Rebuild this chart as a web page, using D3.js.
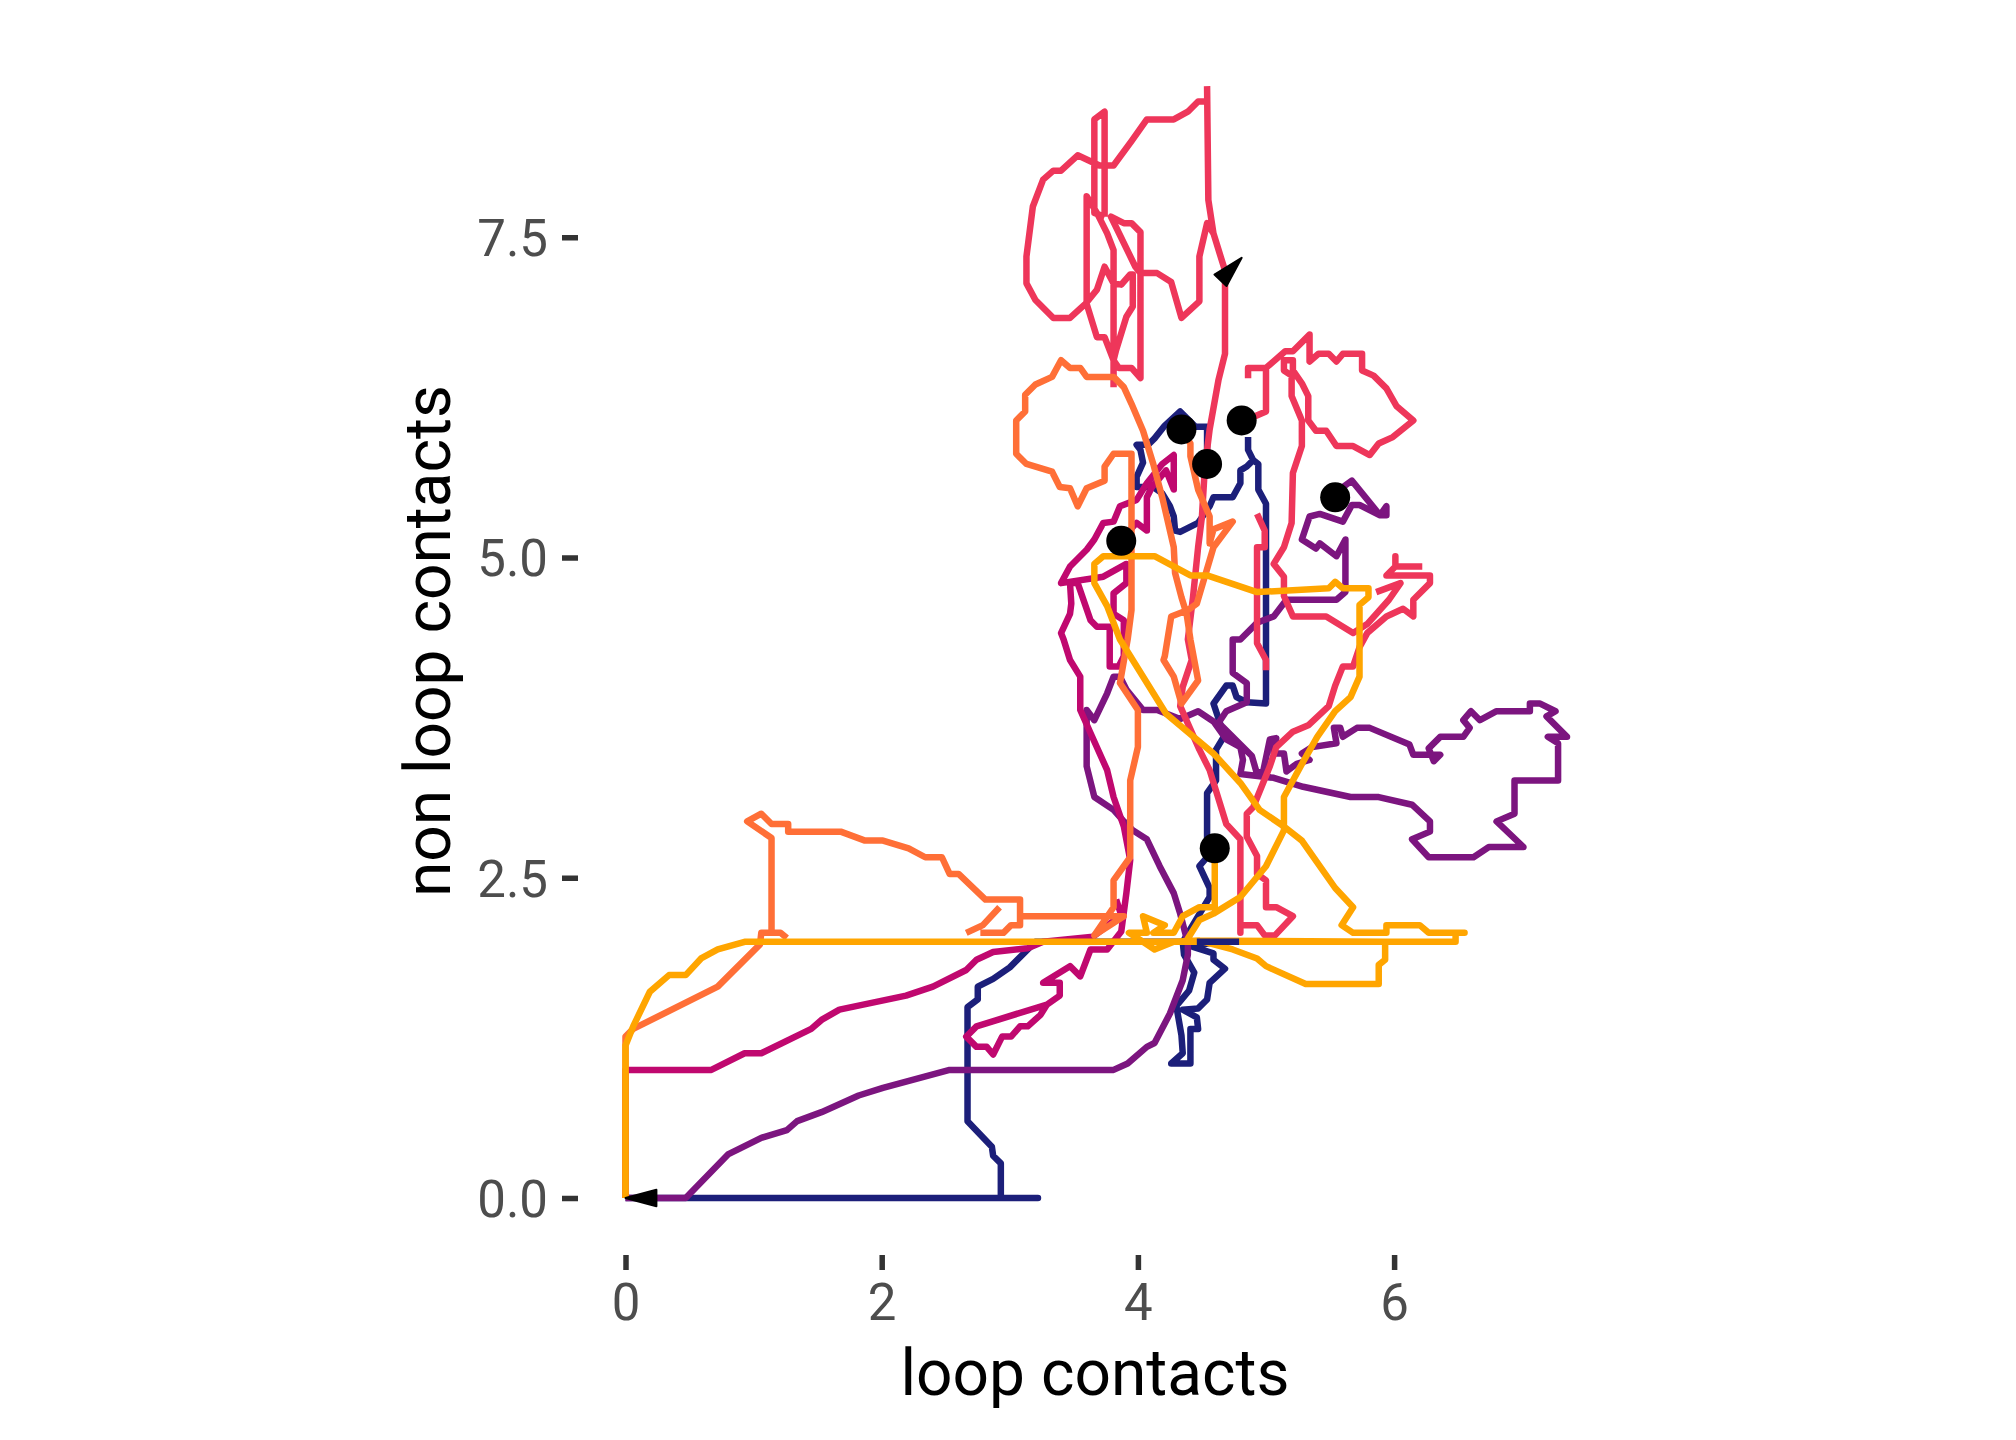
<!DOCTYPE html>
<html>
<head>
<meta charset="utf-8">
<script src="https://cdn.jsdelivr.net/npm/d3@7"></script>
<style>
  html, body { margin: 0; padding: 0; background: #ffffff; }
  svg { display: block; }
</style>
</head>
<body>
<svg id="chart" width="2016" height="1440"></svg>
<script>
// ---- data (loop contacts, non loop contacts); null = gap between pieces ----
const xTicks = [0, 2, 4, 6];
const yTicks = [0, 2.5, 5, 7.5];

const navyPath = [
  [0,0],[3.22,0],[2.93,0],[2.93,0.27],[2.87,0.33],[2.86,0.40],[2.67,0.60],[2.67,1.49],[2.75,1.55],[2.75,1.65],
  [2.87,1.71],[3.00,1.80],[3.13,1.93],[3.20,2.00],[4.79,2.00],[4.60,2.00],[4.43,1.96],[4.59,1.91],[4.59,1.86],
  [4.68,1.79],[4.56,1.68],[4.54,1.55],[4.47,1.48],[4.35,1.47],[4.46,1.41],[4.47,1.32],[4.41,1.32],[4.41,1.05],
  [4.26,1.05],[4.35,1.13],[4.34,1.27],[4.30,1.50],[4.40,1.62],[4.44,1.76],[4.36,1.90],[4.35,2.00],[4.56,2.35],
  [4.56,2.42],[4.48,2.59],[4.54,2.66],[4.54,3.16],[4.61,3.26],[4.61,3.50],[4.67,3.60],[4.64,3.71],[4.59,3.86],
  [4.69,4.00],[4.74,4.00],[4.77,3.91],[4.85,3.87],[5.00,3.86],[5.00,5.42],[4.94,5.53],[4.94,5.73],[4.90,5.76],
  [4.86,5.84],[4.86,5.94], null,
  [4.90,5.76],[4.85,5.71],[4.80,5.68],[4.80,5.58],[4.74,5.47],[4.59,5.47],[4.56,5.40],[4.47,5.27],[4.33,5.20],
  [4.29,5.21],[4.28,5.32],[4.25,5.40],[4.19,5.50],[4.12,5.55],[3.99,5.55],[3.99,5.63],[4.04,5.74],[4.02,5.84],
  [3.99,5.88],[4.08,5.88],[4.13,5.93],[4.21,6.03],[4.33,6.14],[4.45,6.02],[4.54,6.02],[4.54,5.73]
];

const purplePath = [
  [0,0],[0.47,0],[0.80,0.34],[1.06,0.47],[1.26,0.53],[1.34,0.60],[1.53,0.67],[1.82,0.80],[2.01,0.86],[2.53,1.00],
  [3.81,1.00],[3.92,1.05],[4.07,1.18],[4.13,1.21],[4.25,1.44],[4.35,1.70],[4.39,1.90],[4.39,1.99],[4.33,2.22],
  [4.28,2.38],[4.17,2.59],[4.07,2.80],[3.96,2.87],[3.89,2.94],[3.81,3.03],[3.66,3.13],[3.60,3.37],[3.60,3.81],
  [3.66,3.73],[3.76,3.94],[3.81,4.07],[3.86,4.07],[3.91,3.97],[4.04,3.81],[4.15,3.81],[4.33,3.74],[4.47,3.80],
  [4.59,3.72],[4.69,3.58],[4.80,3.52],[4.82,3.42],[4.80,3.31],[5.06,3.28],[5.29,3.21],[5.66,3.13],[5.88,3.13],
  [6.14,3.07],[6.28,2.94],[6.28,2.86],[6.14,2.80],[6.27,2.66],[6.62,2.66],[6.74,2.74],[7.01,2.74],[6.80,2.94],
  [6.94,3.00],[6.94,3.26],[7.28,3.26],[7.28,3.55],[7.20,3.60],[7.35,3.60],[7.19,3.76],[7.26,3.80],[7.14,3.86],
  [7.06,3.86],[7.06,3.80],[6.80,3.80],[6.67,3.73],[6.60,3.80],[6.54,3.73],[6.59,3.67],[6.54,3.60],[6.36,3.60],
  [6.27,3.51],[6.31,3.41],[6.36,3.46],[6.15,3.46],[6.12,3.54],[5.81,3.67],[5.71,3.67],[5.60,3.60],[5.58,3.67],
  [5.53,3.67],[5.55,3.55],[5.36,3.52],[5.28,3.47],[5.34,3.42],[5.24,3.39],[5.16,3.33],[5.14,3.47],[5.06,3.47],
  [5.08,3.59],[5.03,3.58],[4.98,3.34],[4.93,3.31],[4.89,3.45],[4.82,3.52],[4.63,3.71],[4.69,3.80],[4.85,3.87],
  [4.85,4.02],[4.74,4.10],[4.74,4.36],[4.80,4.36],[4.93,4.49],[5.06,4.54],[5.16,4.67],[5.55,4.67],[5.62,4.73],
  [5.62,5.14],[5.55,5.01],[5.42,5.11],[5.39,5.07],[5.28,5.14],[5.34,5.32],[5.42,5.34],[5.60,5.28],[5.67,5.41],
  [5.73,5.41],[5.89,5.33],[5.94,5.40],[5.94,5.33],[5.89,5.33],[5.67,5.60],[5.60,5.55],[5.54,5.47]
];

const magentaPath = [
  [0,0],[0,1.00],[0.67,1.00],[0.93,1.13],[1.06,1.13],[1.45,1.32],[1.53,1.39],[1.67,1.47],[2.19,1.58],[2.40,1.65],
  [2.66,1.78],[2.74,1.86],[2.87,1.92],[3.14,1.95],[3.26,2.00],[3.65,2.04],[3.87,2.21],[3.83,2.33], null,
  [3.29,1.51],[2.74,1.34],[2.66,1.26],[2.74,1.18],[2.82,1.18],[2.87,1.12],[2.94,1.26],[3.01,1.26],[3.08,1.34],
  [3.14,1.34],[3.24,1.43],[3.29,1.51],[3.39,1.58],[3.39,1.68],[3.26,1.68],[3.47,1.81],[3.55,1.73],[3.63,1.94],
  [3.76,1.94],[3.87,2.08],[3.91,2.38],[3.94,2.64],[3.89,2.90],[3.81,3.13],[3.76,3.34],[3.63,3.63],[3.55,3.81],
  [3.55,4.07],[3.47,4.20],[3.42,4.36],[3.40,4.41],[3.47,4.56],[3.48,4.64],[3.47,4.80],[3.53,4.80],[3.63,4.51],
  [3.68,4.46],[3.78,4.46],[3.78,4.15],[3.85,4.15],[3.89,4.23],[3.89,4.51],[3.81,4.56],[3.81,4.72],[3.91,4.80],
  [3.91,4.95],[3.73,4.85],[3.40,4.80],[3.47,4.93],[3.60,5.06],[3.66,5.14],[3.73,5.27],[3.81,5.28],[3.86,5.40],
  [3.99,5.45],[4.07,5.58],[4.19,5.73],[4.28,5.80],[4.28,5.53],[4.22,5.68],[4.11,5.55],[4.07,5.47],[4.07,5.21],
  [3.99,5.27],[3.87,5.14]
];

const crimsonPath = [
  [4.54,8.68],[4.55,7.79],[4.59,7.53],[4.63,7.40],[4.68,7.24],[4.68,6.59],[4.63,6.39],[4.56,6.00],[4.54,5.84],
  [4.52,5.66],[4.50,5.32],[4.47,5.08],[4.43,4.69],[4.39,4.36],[4.42,4.20],[4.35,3.99],[4.33,3.84],[4.48,3.50],
  [4.56,3.34],[4.69,2.92],[4.80,2.80],[4.80,2.07],[4.80,2.13],[4.93,2.13],[4.99,2.05],[5.07,2.05],[5.21,2.20],
  [5.08,2.27],[5.00,2.27],[5.00,2.48],[4.93,2.53],[4.93,2.67],[4.85,2.82],[4.85,3.00],[4.90,3.05],[5.03,3.37],
  [5.08,3.52],[5.21,3.64],[5.33,3.69],[5.49,3.84],[5.54,4.00],[5.60,4.15],[5.68,4.15],[5.73,4.30],[5.79,4.41],
  [5.94,4.54],[6.07,4.60],[6.15,4.54],[6.15,4.67],[6.28,4.80],[6.28,4.86],[5.94,4.86],[6.01,4.93],[6.01,5.01],
  [6.01,4.93],[6.22,4.93], null,
  [5.86,4.73],[6.05,4.80],[5.96,4.67],[5.79,4.48],[5.68,4.41],[5.47,4.54],[5.21,4.54],[5.14,4.70],[5.14,4.85],
  [5.06,4.95],[5.14,5.08],[5.20,5.27],[5.21,5.66],[5.28,5.87],[5.28,6.07],[5.20,6.26],[5.20,6.42],[5.14,6.46],
  [5.14,6.54],[5.21,6.54],[5.21,6.46],[5.28,6.36],[5.33,6.26],[5.33,6.07],[5.39,5.99],[5.47,5.99],[5.55,5.87],
  [5.68,5.87],[5.81,5.80],[5.88,5.89],[5.99,5.94],[6.15,6.07],[6.02,6.18],[5.94,6.32],[5.84,6.42],[5.75,6.46],
  [5.75,6.59],[5.60,6.59],[5.55,6.53],[5.49,6.59],[5.41,6.59],[5.34,6.53],[5.34,6.74],[5.21,6.61],[5.15,6.61],
  [5.00,6.48],[4.86,6.48],[4.86,6.40], null,
  [5.00,6.48],[5.00,6.14],[4.91,6.10],[4.81,6.07], null,
  [4.93,5.34],[4.99,5.21],[4.99,5.08],[4.93,5.08],[4.93,4.33],[5.00,4.20],[5.00,4.12], null,
  [4.54,8.56],[4.47,8.56],[4.39,8.48],[4.28,8.42],[4.07,8.42],[3.95,8.25],[3.81,8.06],[3.70,8.06],[3.53,8.14],
  [3.40,8.02],[3.34,8.02],[3.26,7.95],[3.18,7.74],[3.13,7.35],[3.13,7.14],[3.20,7.01],[3.34,6.87],[3.47,6.87],
  [3.59,6.98],[3.68,7.09],[3.74,7.27],[3.81,7.14],[3.87,7.13],[3.94,7.21],[3.96,7.21],[3.96,6.96],[3.91,6.88],
  [3.83,6.62],[3.81,6.54],[3.85,6.48],[3.95,6.48],[4.02,6.40],[4.02,7.54],[3.95,7.61],[3.89,7.61],[3.79,7.66],
  [3.98,7.27],[4.02,7.22],[4.15,7.22],[4.26,7.15],[4.34,6.87],[4.48,7.00],[4.48,7.35],[4.54,7.61],[4.59,7.53], null,
  [3.81,6.33],[3.81,6.54],[3.74,6.72],[3.68,6.72],[3.60,6.98],[3.60,7.82],[3.68,7.69],[3.76,7.53],[3.81,7.40],
  [3.81,6.54], null,
  [3.74,7.66],[3.66,7.69],[3.66,8.42],[3.74,8.48],[3.74,7.66]
];

const orangePath = [
  [0,0],[0,1.26],[0.06,1.32],[0.72,1.65],[1.05,1.98],[1.06,2.07],[1.21,2.07],[1.26,2.03], null,
  [1.14,2.07],[1.14,2.81],[0.95,2.94],[1.06,3.00],[1.14,2.92],[1.27,2.92],[1.27,2.86],[1.68,2.86],[1.87,2.79],
  [2.01,2.79],[2.21,2.73],[2.34,2.66],[2.47,2.66],[2.53,2.53],[2.60,2.53],[2.81,2.33],[3.08,2.33],[3.08,2.20],
  [3.89,2.20],[3.66,2.05],[3.81,2.27],[3.81,2.48],[3.94,2.66],[3.94,3.26],[4.00,3.52],[4.00,3.81],[3.86,4.02],
  [3.92,4.36],[3.95,4.59],[3.95,5.81],[3.81,5.81],[3.74,5.71],[3.74,5.60],[3.60,5.54],[3.53,5.40],[3.47,5.54],
  [3.39,5.55],[3.33,5.67],[3.13,5.73],[3.05,5.81],[3.05,6.07],[3.12,6.14],[3.12,6.27],[3.20,6.35],[3.33,6.41],
  [3.40,6.54],[3.47,6.48],[3.55,6.48],[3.60,6.41],[3.81,6.41],[3.89,6.33],[3.95,6.20],[4.04,5.99],[4.12,5.73],
  [4.19,5.47],[4.28,5.08],[4.29,4.88],[4.34,4.69],[4.38,4.56],[4.41,4.36],[4.47,4.04],[4.34,3.86],[4.28,4.07],
  [4.20,4.20],[4.21,4.23],[4.26,4.54],[4.39,4.59],[4.46,4.64],[4.59,5.08],[4.74,5.28],[4.59,5.22],[4.56,5.11],
  [4.56,5.32],[4.47,5.53],[4.41,5.79],[4.41,5.89],[4.34,6.00], null,
  [2.66,2.07],[2.79,2.13],[2.92,2.27], null,
  [2.77,2.07],[2.95,2.07],[3.01,2.13],[3.08,2.13],[3.08,2.20]
];

const amberPath = [
  [0,0],[0,1.19],[0.06,1.34],[0.19,1.61],[0.34,1.74],[0.47,1.74],[0.59,1.87],[0.72,1.94],[0.93,2.00],[6.48,2.00],
  [6.48,2.07],[6.55,2.07],[6.27,2.07],[6.20,2.13],[5.94,2.13],[5.94,2.07],[5.68,2.07],[5.59,2.13],[5.68,2.27],
  [5.54,2.42],[5.28,2.79],[5.14,2.90],[4.95,3.03],[4.80,3.24],[4.59,3.47],[4.22,3.78],[3.86,4.36],[3.76,4.62],
  [3.66,4.80],[3.66,4.95],[3.73,5.01],[4.13,5.01],[4.41,4.86],[4.54,4.86],[4.93,4.73],[5.49,4.76],[5.54,4.81],
  [5.60,4.76],[5.80,4.76],[5.80,4.69],[5.73,4.63],[5.73,4.07],[5.66,3.91],[5.54,3.80],[5.40,3.60],[5.27,3.37],
  [5.14,3.13],[5.14,2.87],[5.00,2.59],[4.80,2.35],[4.59,2.22],[4.48,2.17],[4.38,2.01],[5.93,2.00],[5.93,1.86],
  [5.88,1.82],[5.88,1.67],[5.31,1.67],[5.00,1.81],[4.93,1.87],[4.74,1.94],[4.48,2.01],[4.28,2.00],[4.13,1.94],
  [4.04,2.00],[3.93,2.07],[4.07,2.07],[4.04,2.20],[4.21,2.13],[4.12,2.07],[4.28,2.07],[4.35,2.20],[4.48,2.27],
  [4.60,2.27],[4.60,2.73]
];

const navyTopPath = [[4.46,2.00],[4.79,2.00]];

const endPoints = [[4.34,6.00],[4.54,5.73],[4.81,6.07],[5.54,5.47],[3.87,5.13],[4.60,2.73]];

// arrow heads: [from, to] — the tip is at "to"
const arrowHeads = [
  [[0.25,0.00],[0.00,0.00]],
  [[4.65,7.17],[4.81,7.34]]
];

const seriesColors = ["#1c1f7a", "#7c157f", "#c0086f", "#ee365a", "#ff6f37", "#ffa500"];

// ---- drawing ----
const svg = d3.select("#chart");
svg.append("rect").attr("width", 2016).attr("height", 1440).attr("fill", "#ffffff");

const unit = 128.1;
const x = d3.scaleLinear().domain([0, 6]).range([625.5, 625.5 + 6 * unit]);
const y = d3.scaleLinear().domain([0, 7.5]).range([1198, 1198 - 7.5 * unit]);

const line = d3.line()
  .defined(d => d !== null)
  .x(d => x(d[0]))
  .y(d => y(d[1]));

const layers = [navyPath, purplePath, magentaPath, crimsonPath, orangePath, amberPath];
const g = svg.append("g");
layers.forEach((data, i) => {
  g.append("path")
    .attr("d", line(data))
    .attr("fill", "none")
    .attr("stroke", seriesColors[i])
    .attr("stroke-width", 6.5)
    .attr("stroke-linejoin", "round")
    .attr("stroke-linecap", "butt");
});
g.append("path")
  .attr("d", line(navyTopPath))
  .attr("fill", "none")
  .attr("stroke", seriesColors[0])
  .attr("stroke-width", 6.5);

// end points
g.selectAll("circle.end")
  .data(endPoints)
  .join("circle")
  .attr("class", "end")
  .attr("cx", d => x(d[0]))
  .attr("cy", d => y(d[1]))
  .attr("r", 15)
  .attr("fill", "#000000");

// arrow heads
const headLen = 32, half = 15 * Math.PI / 180;
g.selectAll("path.arrow")
  .data(arrowHeads)
  .join("path")
  .attr("class", "arrow")
  .attr("d", d => {
    const x0 = x(d[0][0]), y0 = y(d[0][1]);
    const x1 = x(d[1][0]), y1 = y(d[1][1]);
    const ang = Math.atan2(y1 - y0, x1 - x0);
    const a1 = ang + Math.PI - half, a2 = ang + Math.PI + half;
    const p1 = [x1 + headLen * Math.cos(a1), y1 + headLen * Math.sin(a1)];
    const p2 = [x1 + headLen * Math.cos(a2), y1 + headLen * Math.sin(a2)];
    return `M${x1},${y1}L${p1[0]},${p1[1]}L${p2[0]},${p2[1]}Z`;
  })
  .attr("fill", "#000000")
  .attr("stroke", "#000000")
  .attr("stroke-width", 2)
  .attr("stroke-linejoin", "round");

// axes
const fontFam = "Roboto, 'Liberation Sans', Arial, sans-serif";
const xAxis = svg.append("g")
  .attr("transform", "translate(0,1255)")
  .call(d3.axisBottom(x).tickValues(xTicks).tickFormat(d3.format("d")).tickSizeInner(15).tickSizeOuter(0).tickPadding(14));
const yAxis = svg.append("g")
  .attr("transform", "translate(578,0)")
  .call(d3.axisLeft(y).tickValues(yTicks).tickFormat(d3.format(".1f")).tickSizeInner(16).tickSizeOuter(0).tickPadding(14));

[xAxis, yAxis].forEach(ax => {
  ax.select(".domain").remove();
  ax.selectAll(".tick line").attr("stroke", "#333333").attr("stroke-width", 5.5);
  ax.selectAll(".tick text")
    .attr("fill", "#4d4d4d")
    .style("font-family", fontFam)
    .style("font-size", "51px");
});
yAxis.selectAll(".tick text").attr("dy", "0.36em");

// titles
svg.append("text")
  .attr("x", 1095).attr("y", 1395)
  .attr("text-anchor", "middle")
  .style("font-family", fontFam).style("font-size", "64px")
  .attr("fill", "#000000")
  .text("loop contacts");

svg.append("text")
  .attr("transform", "translate(450,641) rotate(-90)")
  .attr("text-anchor", "middle")
  .style("font-family", fontFam).style("font-size", "64px")
  .attr("fill", "#000000")
  .text("non loop contacts");
</script>
</body>
</html>
